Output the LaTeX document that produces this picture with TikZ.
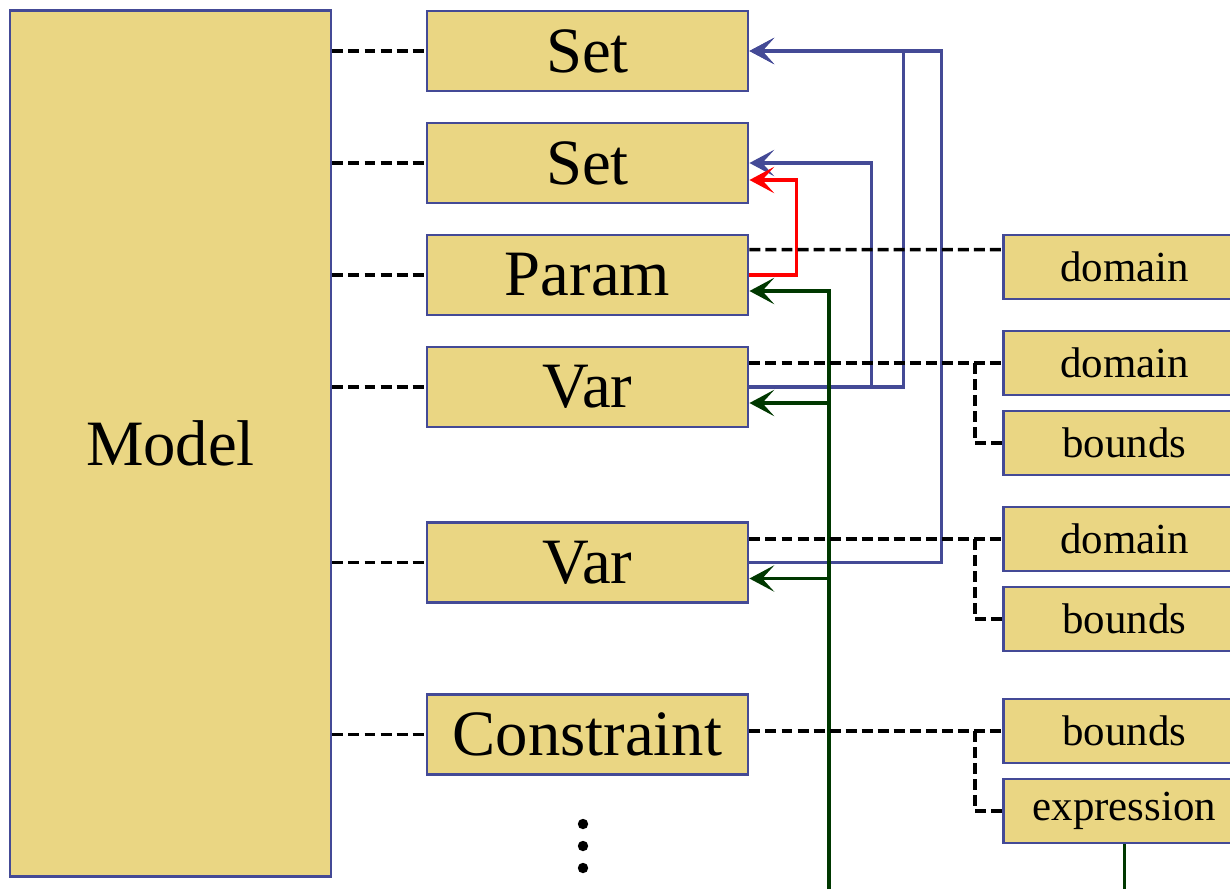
\documentclass[tikz,border=0pt]{standalone}
\usepackage{fontspec}
\setmainfont{Liberation Serif}
\usepackage{tikz}
\usetikzlibrary{arrows.meta}
\usepackage{xcolor}
\definecolor{boxfill}{RGB}{234,214,131}
\definecolor{boxline}{RGB}{68,74,150}
\definecolor{usegreen}{RGB}{0,56,0}
\definecolor{usered}{RGB}{255,0,0}

\begin{document}
\begin{tikzpicture}[x = 0.025cm, y = -0.025cm,
    box/.style = {draw = boxline, fill = boxfill, line width = 2pt, inner sep = 0pt},
    bigbox/.style = {box, minimum width = 8.025cm, minimum height = 2cm, font = \fontsize{46}{50}\selectfont},
    smallbox/.style = {box, anchor = west, minimum width = 6.05cm, minimum height = 1.6cm, font = \fontsize{30.5}{34}\selectfont},
    dashlink/.style = {line width = 2.4pt, dash pattern = on 7.8pt off 3.6pt},
    uselink/.style = {line width = 2.4pt, -{Stealth[length = 0.62cm, width = 0.66cm, inset = 0.3cm]}}]
    \clip (0,0) rectangle (1230,889);

    % main column
    \node[box, minimum width = 8.025cm, minimum height = 21.625cm, font = \fontsize{46}{50}\selectfont] (model) at (170.5,443.5) {Model};
    \node[bigbox] (set1) at (587.5,51) {Set};
    \node[bigbox] (set2) at (587.5,163) {Set};
    \node[bigbox] (param) at (587.5,275) {Param};
    \node[bigbox] (var1) at (587.5,387) {Var};
    \node[bigbox] (var2) at (587.5,562.5) {Var};
    \node[bigbox] (cons) at (587.5,734.5) {Constraint};
    \fill (583,824) circle (0.13cm);
    \fill (583,846) circle (0.13cm);
    \fill (583,868) circle (0.13cm);

    % attributes
    \node[smallbox] (pdom) at (1002,267) {domain};
    \node[smallbox] (vdom1) at (1002,363) {domain};
    \node[smallbox] (vbnd1) at (1002,443) {bounds};
    \node[smallbox] (vdom2) at (1002,539) {domain};
    \node[smallbox] (vbnd2) at (1002,619) {bounds};
    \node[smallbox] (cbnd) at (1002,731) {bounds};
    \node[smallbox] (cexpr) at (1002,811) {expression};

    % references
    \draw[uselink, boxline] (var1.east) -- ++(154,0) |- (set1.east);
    \draw[uselink, boxline] (var1.east) -- ++(122,0) |- (set2.east);
    \draw[uselink, boxline] (var2.east) -- ++(192,0) |- (set1.east);
    \draw[uselink, usered] (param.east) -- ++(47,0) |- ([yshift = -0.425cm]set2.east);

    \coordinate (gbot) at (829,889);
    \coordinate (pin) at ([yshift = -0.4cm]param.east);
    \coordinate (v1in) at ([yshift = -0.4cm]var1.east);
    \coordinate (v2in) at ([yshift = -0.4cm]var2.east);
    \draw[uselink, usegreen] (gbot) |- (pin);
    \draw[uselink, usegreen] (gbot |- v1in) -- (v1in);
    \draw[uselink, usegreen] (gbot |- v2in) -- (v2in);
    \draw[line width = 2.4pt, usegreen] (cexpr.south) -- (cexpr.south |- gbot);

    % containment
    \foreach \n in {set1, set2, param, var1, var2, cons}
        \draw[dashlink] (model.east |- \n.west) -- (\n.west);

    \draw[dashlink] ([yshift = -0.4cm]param.north east) -- ([yshift = -0.4cm]pdom.north west);
    \draw[dashlink] (var1.east |- vdom1.west) -- (vdom1.west);
    \draw[dashlink] ([xshift = -0.675cm]vdom1.west) |- (vbnd1.west);
    \draw[dashlink] (var2.east |- vdom2.west) -- (vdom2.west);
    \draw[dashlink] ([xshift = -0.675cm]vdom2.west) |- (vbnd2.west);
    \draw[dashlink] (cons.east |- cbnd.west) -- (cbnd.west);
    \draw[dashlink] ([xshift = -0.675cm]cbnd.west) |- (cexpr.west);

\end{tikzpicture}
\end{document}
